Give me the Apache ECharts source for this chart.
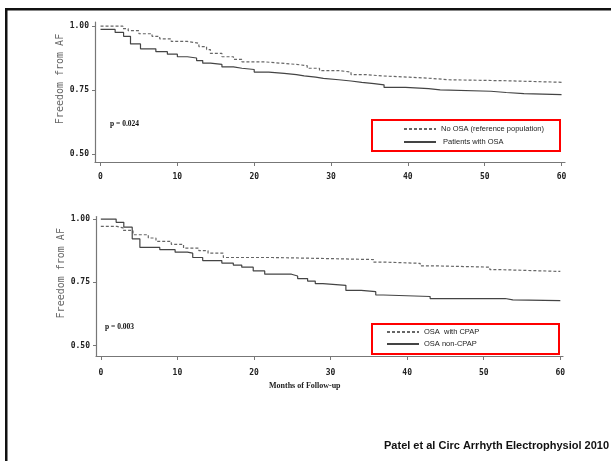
<!DOCTYPE html>
<html>
<head>
<meta charset="utf-8">
<script src="https://cdn.jsdelivr.net/npm/echarts@6/dist/echarts.min.js"></script>
<style>
  html, body { margin: 0; padding: 0; background: #fff; }
  #chart { width: 611px; height: 461px; }
</style>
</head>
<body>
<div id="chart"></div>
<script>
// Kaplan-Meier steps: each point is (month, survival after the drop)
const noOsaT = [0, 2.9, 3.6, 5, 6.7, 7.7, 9.2, 11.3, 12.8, 13.8, 14.3, 15.8, 17.3, 18.4, 21.4, 23.4, 25.5, 26.9, 28.5, 31, 32.6, 34.6, 36.6, 40.2, 43.2, 45.2, 52.8, 60];
const noOsaS = [1.0, 0.99, 0.982, 0.97, 0.96, 0.95, 0.94, 0.933, 0.92, 0.908, 0.893, 0.88, 0.87, 0.86, 0.855, 0.85, 0.845, 0.835, 0.826, 0.82, 0.81, 0.805, 0.8, 0.795, 0.79, 0.786, 0.78, 0.78];

const osaT = [0, 1.9, 3.0, 3.9, 5.2, 7.2, 8.7, 10, 11.3, 12.5, 13.3, 14.3, 15.8, 17.3, 18.4, 20, 21.9, 23.9, 25.5, 26.5, 28, 29, 31, 32.6, 34, 35.6, 36.9, 39.7, 42.7, 44.2, 50.8, 52.8, 55.1, 60];
const osaS = [0.987, 0.975, 0.96, 0.93, 0.911, 0.9, 0.89, 0.88, 0.875, 0.865, 0.855, 0.85, 0.84, 0.835, 0.83, 0.82, 0.815, 0.81, 0.805, 0.8, 0.795, 0.79, 0.785, 0.78, 0.775, 0.77, 0.76, 0.755, 0.75, 0.745, 0.74, 0.736, 0.732, 0.732];

const cpapT = [0, 2.1, 2.9, 4.2, 6.2, 7.2, 9.2, 10.8, 12.8, 14, 16, 22.4, 26, 35.6, 36.9, 41.7, 43.7, 50.8, 52.3, 60];
const cpapS = [0.971, 0.965, 0.955, 0.938, 0.925, 0.912, 0.9, 0.885, 0.875, 0.865, 0.848, 0.846, 0.84, 0.83, 0.825, 0.815, 0.81, 0.8, 0.793, 0.793];

const nonCpapT = [0, 2.0, 3.0, 4.1, 5.1, 7.7, 9.7, 11.3, 12, 13.3, 15.8, 17.3, 18.4, 19.9, 21.4, 24.9, 25.7, 27, 28, 29, 32, 34, 35.9, 36.9, 43, 52.8, 53.8, 60];
const nonCpapS = [1.0, 0.987, 0.968, 0.922, 0.888, 0.879, 0.869, 0.865, 0.848, 0.836, 0.826, 0.818, 0.81, 0.795, 0.782, 0.775, 0.765, 0.755, 0.745, 0.738, 0.718, 0.713, 0.7, 0.694, 0.686, 0.681, 0.678, 0.678];

const xTicks = [0, 10, 20, 30, 40, 50, 60];
const yTicks = [0.5, 0.75, 1.0];

const nameTop1 = "No OSA (reference population)";
const nameTop2 = " Patients with OSA";
const nameBot1 = "OSA  with CPAP";
const nameBot2 = "OSA non-CPAP";

const pair = (t, s) => t.map((v, i) => [v, s[i]]);

const axisGray = "#777";
const monoFont = "DejaVu Sans Mono";
const narrowFont = "Liberation Sans Narrow, Liberation Sans, sans-serif";

function xAxisCfg(idx, min, max, margin) {
  return {
    type: "value",
    gridIndex: idx,
    min: min,
    max: max,
    axisLine: { show: true, onZero: false, lineStyle: { color: axisGray, width: 1.2 } },
    axisTick: { show: true, customValues: xTicks, length: 4, inside: false, lineStyle: { color: axisGray } },
    axisLabel: {
      customValues: xTicks,
      margin: margin,
      color: "#222",
      fontFamily: monoFont,
      fontWeight: "bold",
      fontSize: 8,
      formatter: (v) => String(v),
    },
    splitLine: { show: false },
  };
}

function yAxisCfg(idx, min, max) {
  return {
    type: "value",
    gridIndex: idx,
    min: min,
    max: max,
    name: "Freedom from AF",
    nameLocation: "middle",
    nameGap: 30,
    nameMoveOverlap: false,
    nameTextStyle: {
      color: "#666",
      fontFamily: monoFont,
      fontSize: 10,
      padding: [0, 0, 0, 26],
    },
    axisLine: { show: true, onZero: false, lineStyle: { color: axisGray, width: 1.2 } },
    axisTick: { show: true, customValues: yTicks, length: 3, lineStyle: { color: axisGray } },
    axisLabel: {
      customValues: yTicks,
      margin: 6,
      color: "#222",
      fontFamily: monoFont,
      fontWeight: "bold",
      fontSize: 8,
      formatter: (v) => v.toFixed(2),
    },
    splitLine: { show: false },
  };
}

function kmSeries(name, idx, data, dashed) {
  return {
    name: name,
    type: "line",
    xAxisIndex: idx,
    yAxisIndex: idx,
    step: "end",
    symbol: "none",
    data: data,
    lineStyle: {
      color: dashed ? "#666" : "#444",
      width: 1.2,
      type: dashed ? [3, 2] : "solid",
    },
    itemStyle: { color: dashed ? "#666" : "#444" },
    silent: true,
  };
}

const legendText = { fontFamily: narrowFont, fontSize: 7.5, color: "#222" };

const chart = echarts.init(document.getElementById("chart"));
chart.setOption({
  backgroundColor: "#fff",
  animation: false,
  grid: [
    { left: 95, top: 22, width: 470, height: 140 },
    { left: 96, top: 216.5, width: 467, height: 139.5 },
  ],
  xAxis: [xAxisCfg(0, -0.72, 60.45, 11), xAxisCfg(1, -0.63, 60.35, 13)],
  yAxis: [yAxisCfg(0, 0.468, 1.016), yAxisCfg(1, 0.459, 1.01)],
  legend: [
    {
      data: [nameTop1, nameTop2],
      orient: "vertical",
      left: 403,
      top: 125,
      itemWidth: 32,
      itemHeight: 8,
      itemGap: 5,
      padding: 0,
      itemStyle: { opacity: 0 },
      textStyle: legendText,
      selectedMode: false,
    },
    {
      data: [nameBot1, nameBot2],
      orient: "vertical",
      left: 386,
      top: 328,
      itemWidth: 32,
      itemHeight: 8,
      itemGap: 4,
      padding: 0,
      itemStyle: { opacity: 0 },
      textStyle: legendText,
      selectedMode: false,
    },
  ],
  series: [
    kmSeries(nameTop1, 0, pair(noOsaT, noOsaS), true),
    kmSeries(nameTop2, 0, pair(osaT, osaS), false),
    kmSeries(nameBot1, 1, pair(cpapT, cpapS), true),
    kmSeries(nameBot2, 1, pair(nonCpapT, nonCpapS), false),
  ],
  graphic: [
    // frame on the left and top
    { type: "rect", shape: { x: 5, y: 8, width: 606, height: 2.5 }, style: { fill: "#111" } },
    { type: "rect", shape: { x: 5, y: 8, width: 2.5, height: 453 }, style: { fill: "#111" } },
    // red legend boxes
    { type: "rect", shape: { x: 372, y: 120, width: 188, height: 31 }, style: { fill: "none", stroke: "#f00", lineWidth: 2 } },
    { type: "rect", shape: { x: 372, y: 324, width: 187, height: 30 }, style: { fill: "none", stroke: "#f00", lineWidth: 2 } },
    { type: "text", left: 110, top: 120, style: { text: "p = 0.024", font: "bold 7.5px Liberation Serif", fill: "#111" } },
    { type: "text", left: 105, top: 323, style: { text: "p = 0.003", font: "bold 7.5px Liberation Serif", fill: "#111" } },
    { type: "text", left: 269, top: 382, style: { text: "Months of Follow-up", font: "bold 8px Liberation Sans Narrow", fill: "#222" } },
    { type: "text", right: 2, top: 440, style: { text: "Patel et al Circ Arrhyth Electrophysiol 2010", font: "bold 11px Liberation Sans", fill: "#111" } },
  ],
});
</script>
</body>
</html>
